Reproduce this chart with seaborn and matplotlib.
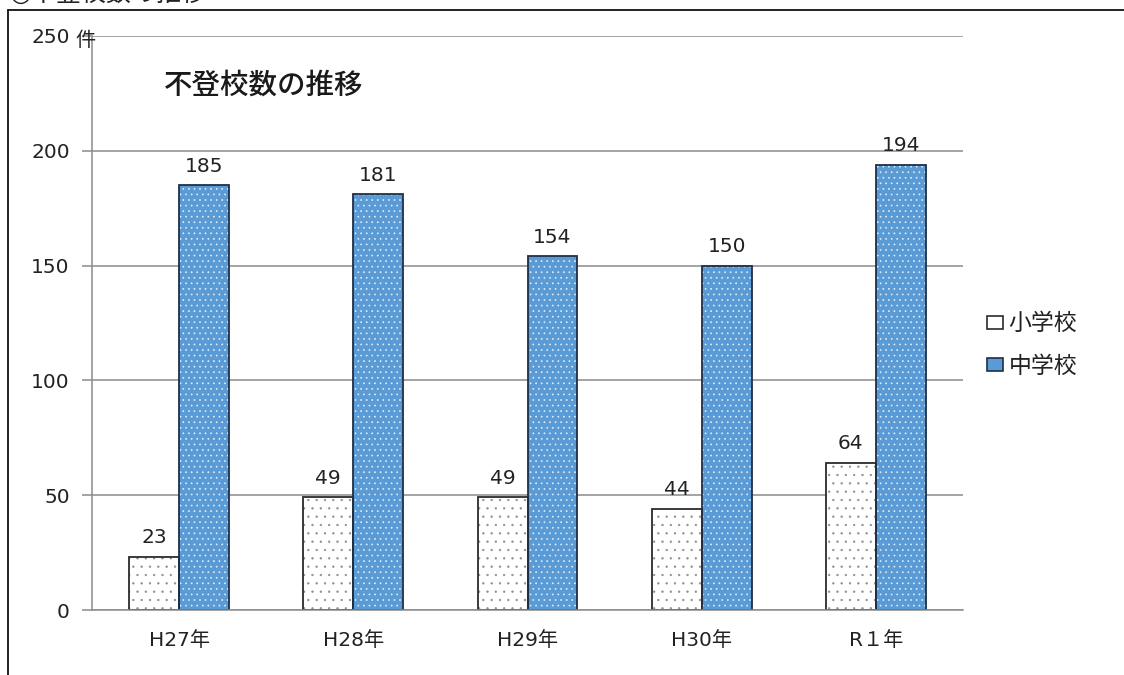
import matplotlib
matplotlib.use("Agg")
import matplotlib.pyplot as plt
import seaborn as sns
import pandas as pd
from matplotlib.lines import Line2D
from matplotlib.patches import Patch

years = ["H27年", "H28年", "H29年", "H30年", "R１年"]
series = ["小学校", "中学校"]
elem = [23, 49, 49, 44, 64]
junior = [185, 181, 154, 150, 194]
yticks = [0, 50, 100, 150, 200, 250]

sns.set_theme(style="white")
plt.rcParams['font.family'] = ['DejaVu Sans', 'Noto Sans CJK JP']
plt.rcParams['hatch.linewidth'] = 0.45

df = pd.DataFrame({
    "year": years * 2,
    "school": [series[0]] * len(years) + [series[1]] * len(years),
    "count": elem + junior,
})

fig = plt.figure(figsize=(11.24, 6.75), dpi=100)
ax = fig.add_axes([92 / 1124, 1 - 610 / 675, (963 - 92) / 1124, (610 - 36) / 675])

fills = {"小学校": "#ffffff", "中学校": "#5b9bd5"}
hatch_cols = {"小学校": "#8f8f8f", "中学校": "#e6f1fb"}
hatches = {"小学校": "..", "中学校": "..."}

# hatch layer
sns.barplot(data=df, x="year", y="count", hue="school", hue_order=series,
            palette=fills, width=0.574, gap=0, ax=ax, legend=False,
            linewidth=0, saturation=1)
n = len(years)
for i, p in enumerate(ax.patches[:2 * n]):
    s = series[i // n]
    p.set_hatch(hatches[s])
    p.set_edgecolor(hatch_cols[s])
    p.set_linewidth(0)

# outline layer
sns.barplot(data=df, x="year", y="count", hue="school", hue_order=series,
            fill=False, width=0.574, gap=0, ax=ax, legend=False,
            linewidth=1.3, saturation=1, palette={"小学校": "#2b2b2b", "中学校": "#1f2f45"})

for cont, vals in zip(ax.containers[:2], [elem, junior]):
    ax.bar_label(cont, labels=[str(v) for v in vals], padding=7, fontsize=14.5, color="#222222")

ax.set_ylim(0, 250)
ax.set_xlim(-0.5, n - 0.5)
ax.set_yticks(yticks)
ax.set_yticklabels([str(t) for t in yticks], fontsize=14.5, color="#222222")
ax.yaxis.grid(True, color="#8c8c8c", linewidth=1.1)
ax.set_axisbelow(True)
ax.set_xlabel("")
ax.set_ylabel("")
for sp in ["top", "right"]:
    ax.spines[sp].set_visible(False)
for sp in ["left", "bottom"]:
    ax.spines[sp].set_color("#8c8c8c")
    ax.spines[sp].set_linewidth(1.1)

ax.set_xticks(range(n))
ax.set_xticklabels(years, fontsize=14.5, color="#222222")
ax.tick_params(axis="x", length=0, pad=15)
ax.set_xticks([i - 0.5 for i in range(n + 1)], minor=True)
ax.tick_params(axis="x", which="minor", length=6, color="#8c8c8c", width=1.1, direction="out")
ax.tick_params(axis="y", length=7, color="#8c8c8c", width=1.1, direction="out", left=True, pad=9)

# unit label
fig.text(75 / 1124, 1 - 40 / 675, "件", ha="left", va="center", fontsize=14.5,
         color="#222222", family=['Noto Sans CJK JP'])

# chart title
ax.text(0.083, 0.915, "不登校数の推移", transform=ax.transAxes, fontsize=20.5,
        fontweight="medium", color="#1a1a1a", ha="left", va="center",
        family=['Noto Sans CJK JP'])

handles = [Patch(facecolor=fills["小学校"], edgecolor="#2b2b2b", linewidth=1.2),
           Patch(facecolor=fills["中学校"], edgecolor="#1f2f45", linewidth=1.2)]
leg = fig.legend(handles, series, loc="center left", bbox_to_anchor=(976 / 1124, 1 - 345 / 675),
                 frameon=False, handlelength=0.68, handleheight=0.5,
                 handletextpad=0.25, labelspacing=0.85, borderpad=0,
                 prop={'family': ['Noto Sans CJK JP'], 'size': 16.5})
for t in leg.get_texts():
    t.set_color("#222222")

# outer frame (cropped)
fig.add_artist(Line2D([8 / 1124, 8 / 1124], [0, 1 - 10 / 675], color="#111111", linewidth=1.3))
fig.add_artist(Line2D([8 / 1124, 1], [1 - 10 / 675, 1 - 10 / 675], color="#111111", linewidth=1.3))

# cut-off heading at top (as in the reference)
fig.text(10 / 1124, 1 + 6 / 675, "◎不登校数の推移", fontsize=18, ha="left", va="center",
         color="#222222", family=['DejaVu Sans', 'Noto Sans CJK JP'])

fig.savefig("out.png", dpi=100)
